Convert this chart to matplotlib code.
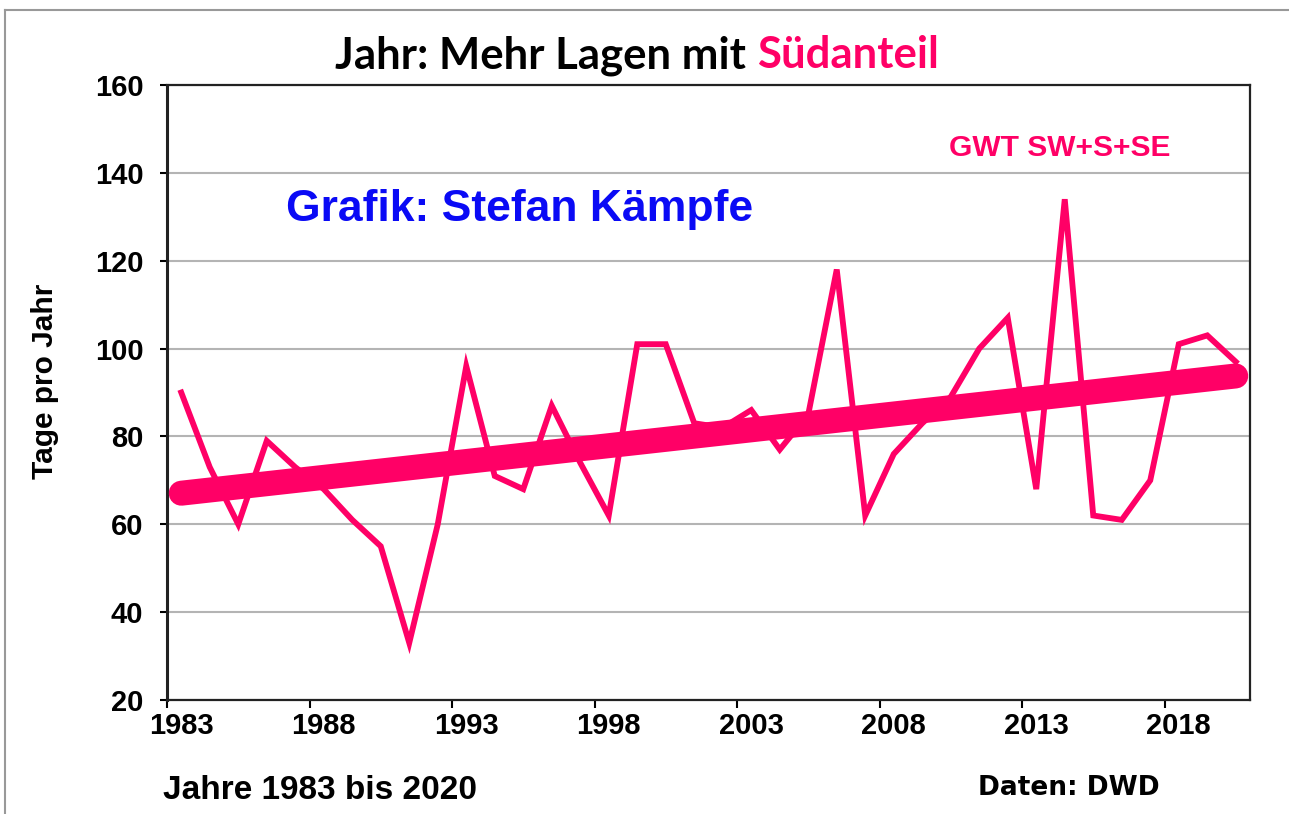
import numpy as np
import matplotlib
matplotlib.use("Agg")
import matplotlib.pyplot as plt
from matplotlib.lines import Line2D

# Tage pro Jahr mit GWT SW+S+SE
years = np.arange(1983, 2021)
days = [90, 73, 60, 79, 73, 68, 61, 55, 33, 60,
        96, 71, 68, 87, 74, 62, 101, 101, 83, 82,
        86, 77, 85, 118, 62, 76, 83, 89, 100, 107,
        68, 134, 62, 61, 70, 101, 103, 97]
tick_years = [1983, 1988, 1993, 1998, 2003, 2008, 2013, 2018]
y_ticks = [20, 40, 60, 80, 100, 120, 140, 160]

PINK = "#FF0066"
BLUE = "#0A0AF5"
W, H = 1289, 814

plt.rcParams["font.family"] = ["Liberation Sans", "DejaVu Sans"]
plt.rcParams["font.weight"] = "bold"

fig = plt.figure(figsize=(W / 100, H / 100), dpi=100)
ax = fig.add_axes([167 / W, 1 - 700 / H, (1250 - 167) / W, (700 - 85) / H])

# data + linear trend
ax.plot(years, days, color=PINK, lw=4.2, solid_joinstyle="miter", zorder=3)
slope, icpt = np.polyfit(years, days, 1)
ax.plot(years, slope * years + icpt, color=PINK, lw=18,
        solid_capstyle="round", zorder=4)

ax.set_xlim(1982.5, 2020.5)
ax.set_ylim(20, 160)
ax.set_yticks(y_ticks)
ax.yaxis.grid(True, color="#b4b4b4", lw=1.5)
ax.set_axisbelow(True)
ax.tick_params(axis="y", direction="out", length=5, width=1.5,
               labelsize=21, pad=12)

# ticks between categories, labels centred on the year
ax.set_xticks([y - 0.5 for y in tick_years])
ax.set_xticklabels([])
ax.set_xticks(tick_years, minor=True)
ax.set_xticklabels([str(y) for y in tick_years], minor=True)
ax.tick_params(axis="x", which="major", direction="out", length=6, width=1.5)
ax.tick_params(axis="x", which="minor", length=0, labelsize=21, pad=9)

for s in ax.spines.values():
    s.set_linewidth(1.6)
    s.set_color("#222222")
ax.spines["left"].set_linewidth(2.2)

for lab in ax.get_xticklabels(minor=True) + ax.get_yticklabels():
    lab.set_fontweight("bold")

fig.text(45 / W, 1 - 381 / H, "Tage pro Jahr", rotation=90, fontsize=21.5,
         fontweight="bold", ha="center", va="center")

# title in two colours
fig.text(746 / W, 1 - 68 / H, "Jahr: Mehr Lagen mit", fontsize=31.5,
         family=["Lato", "DejaVu Sans"], fontweight="bold",
         ha="right", va="baseline", color="black")
fig.text(757 / W, 1 - 68 / H, "Südanteil", fontsize=31.5,
         family=["Lato", "DejaVu Sans"], fontweight="bold",
         ha="left", va="baseline", color=PINK)

fig.text(520 / W, 1 - 221 / H, "Grafik: Stefan Kämpfe", fontsize=32,
         fontweight="bold", color=BLUE, ha="center", va="baseline")
fig.text(1060 / W, 1 - 156 / H, "GWT SW+S+SE", fontsize=21.5,
         fontweight="bold", color=PINK, ha="center", va="baseline")
fig.text(163 / W, 1 - 799 / H, "Jahre 1983 bis 2020", fontsize=24,
         fontweight="bold", ha="left", va="baseline")
fig.text(1160 / W, 1 - 795 / H, "Daten: DWD", fontsize=19,
         family=["DejaVu Sans"], fontweight="bold", ha="right", va="baseline")

# grey frame on top and left
fig.add_artist(Line2D([5 / W, 5 / W], [0, 1 - 10 / H], color="#999999",
                      lw=1.5, transform=fig.transFigure))
fig.add_artist(Line2D([5 / W, 1], [1 - 10 / H, 1 - 10 / H], color="#999999",
                      lw=1.5, transform=fig.transFigure))

fig.savefig("out.png", dpi=100)
